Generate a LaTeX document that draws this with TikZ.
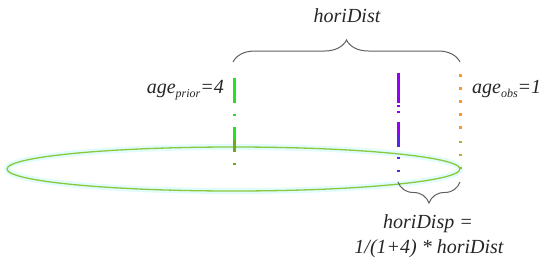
\documentclass[tikz,border=0pt]{standalone}
\usepackage{fontspec}
\setmainfont{Liberation Serif}
\usetikzlibrary{decorations.pathreplacing,shapes.geometric}
\definecolor{ellgreen}{RGB}{140,200,60}
\definecolor{glow}{RGB}{225,252,252}
\definecolor{brightgreen}{RGB}{40,225,30}
\definecolor{olivegreen}{RGB}{110,170,30}
\definecolor{vpurple}{RGB}{150,0,250}
\definecolor{vblue}{RGB}{80,40,230}
\definecolor{vorange}{RGB}{255,150,40}
\definecolor{volive}{RGB}{175,180,40}
\definecolor{bracegray}{RGB}{95,95,95}
\begin{document}
\begin{tikzpicture}[x=1pt,y=-1pt,
  lab/.style={font=\fontsize{20}{24}\selectfont\itshape, inner sep=0pt, text=black!85},
  bracestyle/.style={draw=bracegray, line width=1pt, decorate},
  vline/.style={line width=3pt}]
\useasboundingbox (0,0) rectangle (550,266);

% ellipse
\node[draw=glow, line width=6pt, ellipse, minimum width=453pt, minimum height=44pt, inner sep=0pt] (ellglow) at (233.5,169) {};
\node[draw=ellgreen, line width=1.3pt, ellipse, minimum width=453pt, minimum height=44pt, inner sep=0pt] (ell) at (233.5,169) {};

% green dash-dot line
\coordinate (gtop) at (234,78);
\coordinate (gmid) at (234,140);
\coordinate (gbot) at (234,166);
\draw[vline, brightgreen, dash pattern=on 25pt off 11pt on 2pt off 11pt on 25pt off 11pt on 2pt off 20pt] (gtop) -- (gbot);
\draw[vline, olivegreen, dash pattern=on 12pt off 11pt on 2pt off 20pt] (gmid) -- (gbot);

% purple line
\coordinate (ptop) at (398,73);
\coordinate (pmid) at (398,135);
\coordinate (pbot) at (398,173);
\draw[vline, vpurple, dash pattern=on 30pt off 2pt on 2pt off 4pt on 2pt off 9pt on 25pt off 40pt] (ptop) -- (pmid);
\draw[vline, vblue, dash pattern=on 12pt off 10pt on 2pt off 11pt on 2pt off 20pt] (pmid) -- (pbot);

% orange dotted line
\coordinate (otop) at (460,74);
\coordinate (omid) at (460,138);
\coordinate (obot) at (460,169);
\draw[line width=3pt, vorange, dash pattern=on 2.5pt off 10.6pt] (otop) -- (omid);
\draw[line width=3pt, volive, dash pattern=on 2.5pt off 10.6pt] ([yshift=-2.6pt]omid) -- (obot);

% braces
\coordinate (b1l) at (233,62);
\coordinate (b1r) at (460,62);
\draw[bracestyle, decoration={brace, amplitude=22pt}] (b1l) -- (b1r);
\coordinate (b2l) at (398,182);
\coordinate (b2r) at (460,182);
\draw[bracestyle, decoration={brace, amplitude=21pt, mirror}] (b2l) -- (b2r);

% labels
\node[lab, anchor=base] (hdist) at (347,22) {horiDist};
\node[lab, anchor=base east] (aprior) at (224,93) {age\raisebox{-0.5ex}{\fontsize{12}{12}\selectfont prior}=4};
\node[lab, anchor=base west] (aobs) at (472,93) {age\raisebox{-0.5ex}{\fontsize{12}{12}\selectfont obs}=1};
\node[lab, anchor=base] (hdisp1) at (428,228) {horiDisp =};
\node[lab, anchor=base] (hdisp2) at (429,253) {1/(1+4) * horiDist};
\end{tikzpicture}
\end{document}
